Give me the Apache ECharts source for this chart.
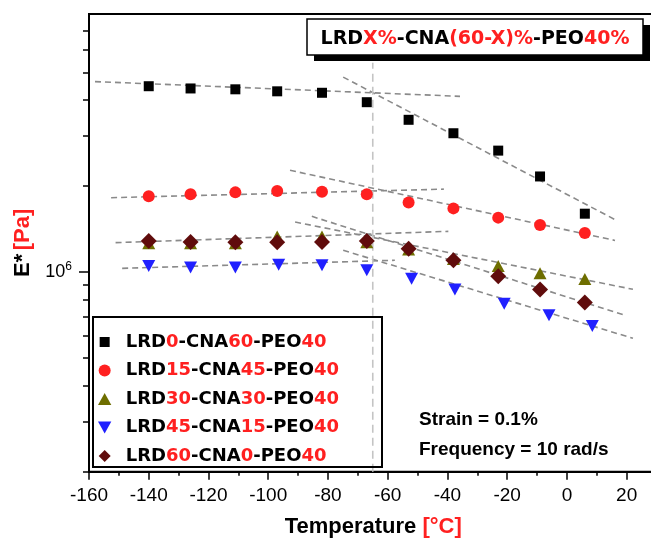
<!DOCTYPE html>
<html><head><meta charset="utf-8">
<script src="https://cdn.jsdelivr.net/npm/echarts@6/dist/echarts.min.js"></script>
<style>html,body{margin:0;padding:0;background:#fff}#c{width:651px;height:538px}</style>
</head><body><div id="c"></div>
<script>
// ---------- data ----------
const seriesNames = ['LRD0-CNA60-PEO40','LRD15-CNA45-PEO40','LRD30-CNA30-PEO40','LRD45-CNA15-PEO40','LRD60-CNA0-PEO40'];
const temps      = [-140,-126,-111,-97,-82,-67,-53,-38,-23,-9,6];
const tempsLRD45 = [-140,-126,-111,-96.5,-82,-67,-52,-37.5,-21,-6,8.5];
const eLRD0  = [4.47e6,4.39e6,4.36e6,4.29e6,4.24e6,3.93e6,3.41e6,3.06e6,2.66e6,2.16e6,1.60e6];
const eLRD15 = [1.84e6,1.87e6,1.90e6,1.92e6,1.91e6,1.87e6,1.75e6,1.67e6,1.55e6,1.46e6,1.37e6];
const eLRD30 = [1.26e6,1.26e6,1.26e6,1.33e6,1.33e6,1.27e6,1.20e6,1.11e6,1.05e6,0.99e6,0.945e6];
const eLRD45 = [1.05e6,1.036e6,1.036e6,1.06e6,1.055e6,1.014e6,0.948e6,0.868e6,0.775e6,0.706e6,0.647e6];
const eLRD60 = [1.283e6,1.273e6,1.27e6,1.27e6,1.273e6,1.283e6,1.207e6,1.099e6,0.966e6,0.868e6,0.782e6];

// dashed fit lines (start / end points)
const fitLRD0Low   = [[-158,4.64e6],[-35.8,4.12e6]];
const fitLRD0High  = [[-74.9,4.81e6],[16.4,1.52e6]];
const fitLRD15Low  = [[-152.6,1.82e6],[-41.2,1.95e6]];
const fitLRD15High = [[-92.7,2.27e6],[16.1,1.29e6]];
const fitLRD30Low  = [[-151.1,1.267e6],[-39.7,1.388e6]];
const fitLRD30High = [[-91.0,1.496e6],[22.1,0.870e6]];
const fitLRD45Low  = [[-148.9,1.03e6],[-57.6,1.099e6]];
const fitLRD45High = [[-74.9,1.191e6],[22.1,0.586e6]];
const fitLRD60High = [[-85.4,1.566e6],[19.4,0.706e6]];
const transitionLine = [[-65,2e5],[-65,5.4e6]];

const xMin = -160, xMax = 40, xStep = 20;
const yMin = 2e5, yMax = 8e6;
const yMajorTicks = [1e6];
const yMinorTicks = [2e5,3e5,4e5,5e5,6e5,7e5,8e5,9e5,2e6,3e6,4e6,5e6,6e6,7e6];

// ---------- styles ----------
const colors = ['#000000','#ff2020','#6e6e00','#2020ff','#600c0c'];
const symbols = ['rect','circle','triangle','path://M0,0L10,0L5,9Z','diamond'];
const symbolSizes = [10,12,[13,12],[13,12],[16,16]];
const legendIcons = ['path://M-1,-1M0,0H10V10H0ZM11,11','circle','path://M5,0L10,9L0,9Z','path://M0,0L10,0L5,9Z','path://M5,0L10,5L5,10L0,5Z'];
const boldFont = 'DejaVu Sans';
const sansFont = 'Liberation Sans';

const pairs = (xs, ys) => xs.map((x, i) => [x, ys[i]]);
const values = [eLRD0, eLRD15, eLRD30, eLRD45, eLRD60];
const xsets = [temps, temps, temps, tempsLRD45, temps];

const fitLines = [fitLRD0Low, fitLRD0High, fitLRD15Low, fitLRD15High, fitLRD30Low, fitLRD30High, fitLRD45Low, fitLRD45High, fitLRD60High];

const series = [];
fitLines.forEach((d, i) => series.push({
  type: 'line', name: 'fit' + i, data: d, showSymbol: false, symbol: 'none', silent: true,
  xAxisIndex: 0, yAxisIndex: 0, z: 1,
  lineStyle: { color: '#8a8a8a', width: 1.6, type: [6, 4] }
}));
series.push({
  type: 'line', name: 'transition', data: transitionLine, showSymbol: false, symbol: 'none', silent: true,
  z: 1, lineStyle: { color: '#c4c4c4', width: 1.6, type: [8, 5] }
});
seriesNames.forEach((n, i) => series.push({
  type: 'scatter', name: n, data: pairs(xsets[i], values[i]), symbol: symbols[i], symbolSize: symbolSizes[i],
  itemStyle: { color: colors[i], opacity: 1 }, z: 5, xAxisIndex: 0, yAxisIndex: 0
}));

const lg10 = v => Math.log10(v);

const chart = echarts.init(document.getElementById('c'), null, { renderer: 'canvas' });
chart.setOption({
  animation: false,
  backgroundColor: '#fff',
  grid: { left: 89, right: -35.4, top: 14, bottom: 66.3, show: true, borderColor: '#000', borderWidth: 2, outerBoundsMode: 'none', containLabel: false },
  xAxis: {
    type: 'value', min: xMin, max: xMax, interval: xStep,
    axisLine: { lineStyle: { color: '#000', width: 2 } },
    axisTick: { show: true, inside: false, length: 8, lineStyle: { color: '#000', width: 1.5 } },
    minorTick: { show: true, splitNumber: 2, length: 4, lineStyle: { color: '#000', width: 1.5 } },
    splitLine: { show: false }, minorSplitLine: { show: false },
    axisLabel: { color: '#000', fontFamily: sansFont, fontSize: 19, margin: 15, showMaxLabel: false },
    name: '{k|Temperature }{r|[°C]}', nameLocation: 'middle', nameGap: 44,
    nameTextStyle: { padding: [0, 29, 0, 0], rich: {
      k: { fontFamily: sansFont, fontWeight: 'bold', fontSize: 22, color: '#000' },
      r: { fontFamily: sansFont, fontWeight: 'bold', fontSize: 22, color: '#ff2020' } } }
  },
  yAxis: [
    { type: 'log', logBase: 10, min: yMin, max: yMax,
      axisLine: { show: false }, axisTick: { show: false }, axisLabel: { show: false }, splitLine: { show: false } },
    { type: 'value', min: lg10(yMin), max: lg10(yMax), position: 'left',
      axisLine: { show: true, lineStyle: { color: '#000', width: 2 } },
      axisTick: { show: true, inside: false, length: 10, customValues: yMajorTicks.map(lg10), lineStyle: { color: '#000', width: 1.5 } },
      axisLabel: { show: true, margin: 17, customValues: yMajorTicks.map(lg10),
        formatter: v => '{a|10}{b|' + Math.round(v) + '}',
        rich: { a: { fontFamily: sansFont, fontSize: 18, color: '#000', lineHeight: 22 },
                b: { fontFamily: sansFont, fontSize: 12, color: '#000', verticalAlign: 'top', lineHeight: 12 } } },
      splitLine: { show: false },
      name: '{k|E*} {r|[Pa]}', nameLocation: 'middle', nameRotate: 90, nameGap: 52,
      nameTextStyle: { rich: {
        k: { fontFamily: sansFont, fontWeight: 'bold', fontSize: 22, color: '#000' },
        r: { fontFamily: sansFont, fontWeight: 'bold', fontSize: 22, color: '#ff2020' } } } },
    { type: 'value', min: lg10(yMin), max: lg10(yMax), position: 'left',
      axisLine: { show: false },
      axisTick: { show: true, inside: false, length: 6, customValues: yMinorTicks.map(lg10), lineStyle: { color: '#000', width: 1.5 } },
      axisLabel: { show: false }, splitLine: { show: false } }
  ],
  legend: {
    orient: 'vertical', left: 93, top: 328, itemWidth: 32, itemHeight: 12, itemGap: 10.5,
    selectedMode: false,
    data: seriesNames.map((n, i) => ({ name: n, icon: legendIcons[i], itemStyle: { color: colors[i] } })),
    formatter: n => n.replace(/(\d+)/g, '{r|$1}'),
    textStyle: { fontFamily: boldFont, fontWeight: 'bold', fontSize: 18, color: '#000', lineHeight: 18,
      rich: { r: { fontFamily: boldFont, fontWeight: 'bold', fontSize: 18, color: '#ff2020', lineHeight: 18 } } }
  },
  graphic: [
    { type: 'rect', z: 100, shape: { x: 314, y: 25, width: 336, height: 36 }, style: { fill: '#000' } },
    { type: 'rect', z: 101, shape: { x: 307, y: 19, width: 336, height: 36 }, style: { fill: '#fff', stroke: '#000', lineWidth: 1.5 } },
    { type: 'text', z: 102, x: 475, y: 39, style: {
        text: '{k|LRD}{r|X%}{k|-CNA}{r|(60-X)%}{k|-PEO}{r|40%}', align: 'center', verticalAlign: 'middle',
        rich: { k: { fontFamily: boldFont, fontWeight: 'bold', fontSize: 19, fill: '#000' },
                r: { fontFamily: boldFont, fontWeight: 'bold', fontSize: 19, fill: '#ff2020' } } } },
    { type: 'rect', z: 50, shape: { x: 93, y: 317, width: 289, height: 150 }, style: { fill: 'none', stroke: '#000', lineWidth: 2 } },
    { type: 'text', z: 50, x: 419, y: 420, style: { text: 'Strain = 0.1%', fontFamily: sansFont, fontWeight: 'bold', fontSize: 19, fill: '#000', verticalAlign: 'middle' } },
    { type: 'text', z: 50, x: 419, y: 450, style: { text: 'Frequency = 10 rad/s', fontFamily: sansFont, fontWeight: 'bold', fontSize: 19, fill: '#000', verticalAlign: 'middle' } }
  ],
  series: series
});
</script></body></html>
